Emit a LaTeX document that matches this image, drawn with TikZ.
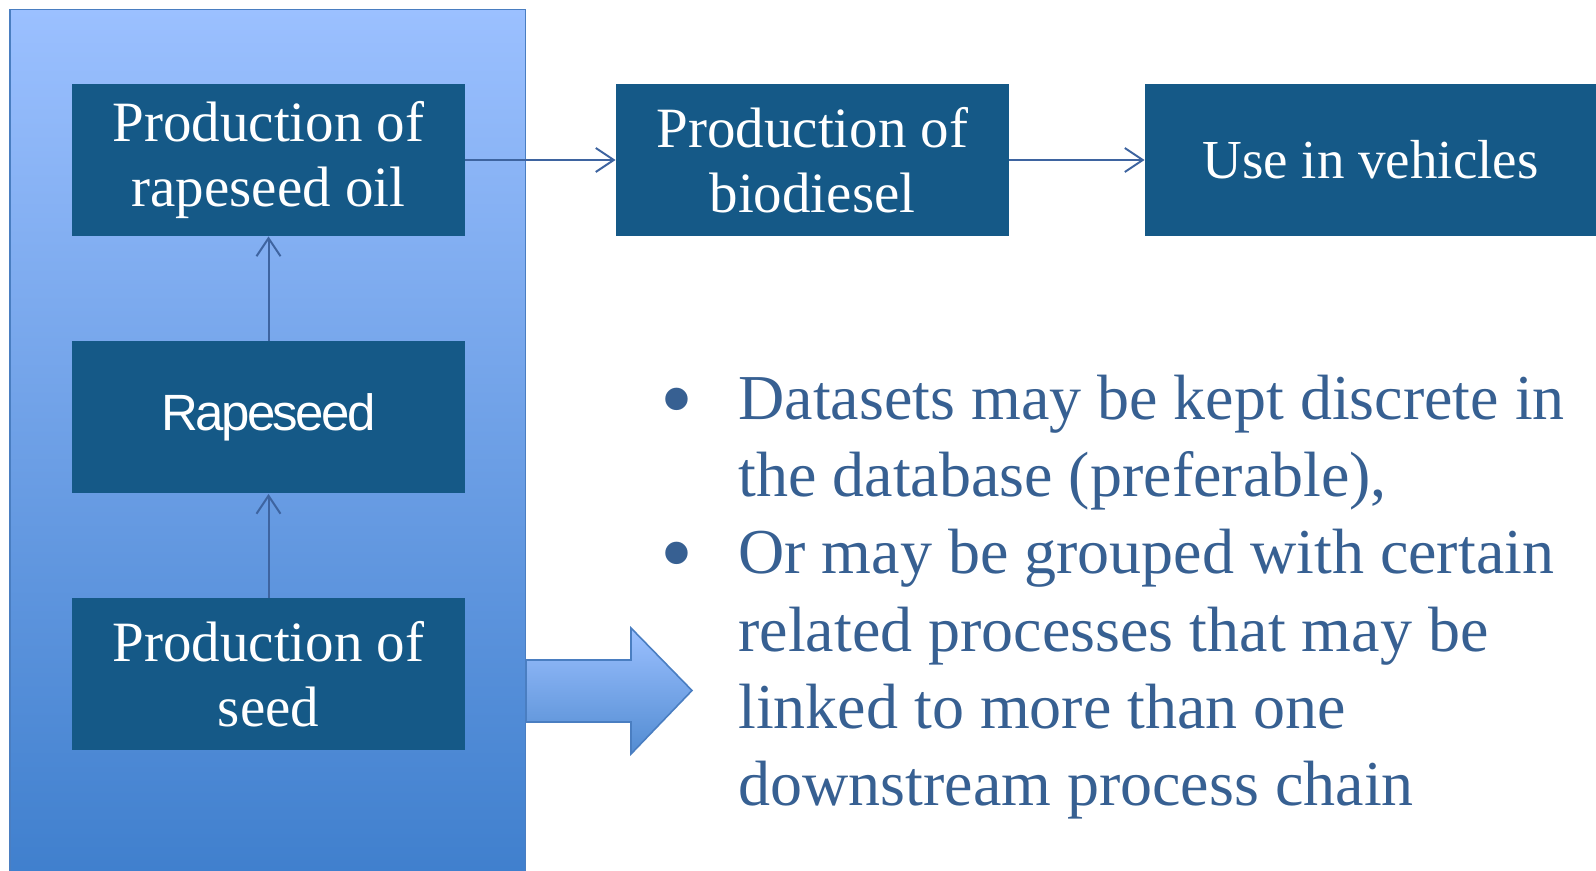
\documentclass[tikz,border=0pt]{standalone}
\usepackage{fontspec}
\setmainfont{Liberation Serif}
\newfontfamily\rapefont[LetterSpace=-5]{Liberation Sans}
\usetikzlibrary{arrows.meta,positioning}

\definecolor{boxblue}{RGB}{21,89,135}
\definecolor{paneltop}{RGB}{155,192,255}
\definecolor{panelbottom}{RGB}{63,127,205}
\definecolor{panelline}{RGB}{74,126,193}
\definecolor{linkblue}{RGB}{62,100,160}
\definecolor{textblue}{RGB}{55,96,146}

\begin{document}
\begin{tikzpicture}[x=0.5pt,y=-0.5pt,
  process/.style={fill=boxblue,text=white,inner sep=0pt,align=center,
    minimum width=196.5pt,minimum height=76pt,
    font=\fontsize{28.5}{32.5}\selectfont},
  link/.style={draw=linkblue,line width=1pt,-{Straight Barb[length=9pt,width=12pt]}},
  bulletdot/.style={text=textblue,inner sep=0pt,font=\fontsize{47}{47}\selectfont},
  bulletline/.style={anchor=base west,inner sep=0pt,text=textblue,
    font=\fontsize{32}{38.5}\selectfont}]
\useasboundingbox (0,0) rectangle (1596,871);
\shade[top color=paneltop,bottom color=panelbottom,draw=panelline,line width=0.8pt]
  (10,9.5) rectangle (525.5,880);
\shade[top color=paneltop,bottom color=panelbottom!90!white,draw=panelline,line width=0.8pt]
  (526,660) -- (631,660) -- (631,628) -- (692,690.5) -- (631,754) -- (631,722) -- (526,722) -- cycle;
\node[process] (oil) at (268.5,160) {Production of\\rapeseed oil};
\node[process] (seed) at (268.5,417.5) {\rapefont\fontsize{25.5}{30}\selectfont Rapeseed};
\node[process] (sow) at (268.5,674) {Production of\\seed};
\node[process] (diesel) at (812.5,160) {Production of\\biodiesel};
\node[process,minimum width=225.5pt,font=\fontsize{27.5}{32.5}\selectfont] (use) at (1370.5,160) {Use in vehicles};
\draw[link] (oil) -- (diesel);
\draw[link] (diesel) -- (use);
\draw[link] (seed) -- (oil);
\draw[link] (sow) -- (seed);
\node[bulletdot] (dot1) at (677,409) {\textbullet};
\node[bulletdot] (dot2) at (677,563) {\textbullet};
\node[bulletline] (l1) at (738,420) {Datasets may be kept discrete in};
\node[bulletline] (l2) at (738,497) {the database (preferable),};
\node[bulletline] (l3) at (738,574) {Or may be grouped with certain};
\node[bulletline] (l4) at (738,651) {related processes that may be};
\node[bulletline] (l5) at (738,728) {linked to more than one};
\node[bulletline] (l6) at (738,805) {downstream process chain};
\end{tikzpicture}
\end{document}
